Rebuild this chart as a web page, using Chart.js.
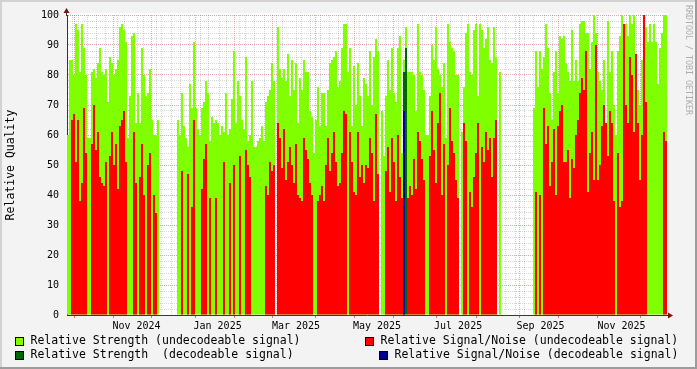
<!DOCTYPE html>
<html>
<head>
<meta charset="utf-8">
<script src="https://cdn.jsdelivr.net/npm/chart.js@4"></script>
<style>
  html, body { margin: 0; padding: 0; background: #f3f3f3; }
  canvas { display: block; }
</style>
</head>
<body>
<canvas id="qualityChart" width="697" height="369"></canvas>
<script>
// one value per ~1.5 days, 27 Sep 2024 .. 18 Dec 2025 (null = no data)
var strength = [
  60,85,85,80,97,95,81,97,89,80,59,59,81,82,79,84,89,81,80,82,
  71,86,84,80,82,85,96,97,95,91,59,73,93,94,64,74,64,89,80,73,
  74,82,65,60,60,65,null,null,null,null,null,null,null,null,null,65,60,74,63,59,
  56,77,69,91,69,62,60,69,71,78,74,58,66,64,65,64,60,63,61,74,
  60,62,72,88,64,78,73,65,62,86,58,60,78,56,56,58,59,63,58,71,
  73,75,84,78,null,96,82,79,82,78,87,73,85,75,84,64,79,75,85,81,
  81,68,66,54,65,76,63,74,74,63,75,84,85,86,88,76,78,89,97,97,
  81,89,63,83,70,84,73,63,79,77,73,88,70,86,92,88,null,68,53,73,
  85,75,89,74,71,89,93,54,85,96,81,81,81,80,68,97,81,80,75,60,
  60,73,90,85,96,82,80,76,84,59,97,91,89,88,80,80,null,61,76,94,
  97,81,80,95,97,73,97,95,89,92,96,85,84,96,86,null,81,null,null,null,
  null,null,null,null,null,null,null,null,null,null,null,null,null,69,88,76,88,82,86,97,
  89,74,65,81,88,74,93,92,93,84,81,78,95,78,85,78,97,98,98,94,
  94,82,91,100,94,81,78,75,85,60,98,81,88,70,60,88,93,100,97,97,
  93,100,97,100,82,75,70,85,88,96,91,97,91,97,91,77,89,94,100,100
];
var snr = [
  0,0,65,67,51,65,38,44,69,54,0,0,57,70,55,61,46,44,43,51,
  0,53,61,50,57,42,63,65,68,51,0,0,0,61,44,0,46,57,40,0,
  50,54,0,40,34,0,null,null,null,null,null,null,null,null,null,0,0,48,0,0,
  47,0,36,65,0,0,0,42,52,57,0,39,0,0,39,0,0,0,51,0,
  0,44,0,50,0,0,53,0,0,55,50,46,0,0,0,0,0,0,0,43,
  40,51,48,50,null,64,59,49,62,45,51,56,50,44,57,40,39,38,59,55,
  52,44,40,0,0,38,40,43,38,50,59,48,54,61,51,43,44,54,68,67,
  0,61,51,41,40,61,46,50,44,50,49,59,54,38,67,47,null,0,0,48,
  56,41,59,51,38,60,46,39,0,0,39,43,40,52,42,61,58,52,45,0,
  0,53,68,55,44,64,74,40,57,0,50,69,58,54,45,39,null,0,64,58,
  0,41,36,46,54,64,0,56,51,61,55,59,46,59,65,null,0,null,null,null,
  null,null,null,null,null,null,null,null,null,null,null,null,null,0,41,0,40,0,69,57,
  63,43,51,62,40,63,68,70,51,51,55,39,52,49,60,65,74,79,75,88,
  41,54,61,45,90,45,50,63,70,64,53,68,64,38,0,54,36,38,97,70,
  64,86,80,61,87,64,45,60,100,71,0,0,0,0,0,0,0,0,61,58
];
// the few slots with a decodeable signal
var decIndex = [168, 169];
var decStrength = [81, 89];
var decSnr = [68, null];

var tickLabels = ['Nov 2024', 'Jan 2025', 'Mar 2025', 'May 2025', 'Jul 2025', 'Sep 2025', 'Nov 2025'];
var labelMonths = [[2024, 10], [2025, 0], [2025, 2], [2025, 4], [2025, 6], [2025, 8], [2025, 10]];

var legendItems = [
  { text: 'Relative Strength (undecodeable signal)', color: '#80ff00', x: 15, y: 337 },
  { text: 'Relative Signal/Noise (undecodeable signal)', color: '#ff0000', x: 365, y: 337 },
  { text: 'Relative Strength  (decodeable signal)', color: '#006600', x: 15, y: 351 },
  { text: 'Relative Signal/Noise (decodeable signal)', color: '#000099', x: 379, y: 351 }
];

var MONO = "'DejaVu Sans Mono', monospace";
Chart.defaults.font.family = MONO;
Chart.defaults.color = '#000';

function decSeries(vals) {
  return strength.map(function (_, i) {
    var j = decIndex.indexOf(i);
    return j < 0 ? null : vals[j];
  });
}

// time axis in days since 1 Nov 2024
var origin = Date.UTC(2024, 10, 1);
function dayOf(y, m, d) { return (Date.UTC(y, m, d) - origin) / 86400000; }

var xtTicks = [];
for (var w = 3 - 35; w < 413; w += 7) xtTicks.push({ value: w, kind: 'minor', text: '' });
for (var m = 0; m < 15; m++) xtTicks.push({ value: dayOf(2024, 9 + m, 1), kind: 'major', text: '' });
labelMonths.forEach(function (lm, i) {
  xtTicks.push({ value: dayOf(lm[0], lm[1], 1) + 15.5, kind: 'label', text: tickLabels[i] });
});
xtTicks.sort(function (a, b) { return a.value - b.value; });

var yTicks = [];
for (var v = 0; v <= 100; v += 2) yTicks.push({ value: v });

var MAJOR = 'rgba(190,70,70,0.45)';
var MINOR = 'rgba(120,120,120,0.3)';

var rrdFrame = {
  id: 'rrdFrame',
  beforeDraw: function (chart) {
    var ctx = chart.ctx, a = chart.chartArea;
    ctx.save();
    ctx.fillStyle = '#f3f3f3';
    ctx.fillRect(0, 0, chart.width, chart.height);
    ctx.fillStyle = '#d2d2d2';
    ctx.fillRect(0, 0, chart.width, 2);
    ctx.fillRect(0, 0, 2, chart.height);
    ctx.fillStyle = '#9c9c9c';
    ctx.fillRect(chart.width - 2, 0, 2, chart.height);
    ctx.fillRect(0, chart.height - 2, chart.width, 2);
    ctx.fillStyle = '#ffffff';
    ctx.fillRect(a.left, a.top - 2, a.right - a.left + 1, a.bottom - a.top + 2);
    ctx.restore();
  },
  afterDraw: function (chart) {
    var ctx = chart.ctx, a = chart.chartArea;
    ctx.save();
    // axis arrows
    ctx.fillStyle = '#7f1010';
    ctx.strokeStyle = '#33334d';
    ctx.lineWidth = 1;
    ctx.beginPath();
    ctx.moveTo(a.left - 0.5, a.top + 1); ctx.lineTo(a.left - 0.5, a.top - 3);
    ctx.moveTo(a.right, a.bottom + 0.5); ctx.lineTo(a.right + 2, a.bottom + 0.5);
    ctx.stroke();
    ctx.beginPath();
    ctx.moveTo(a.left - 3.5, a.top - 2); ctx.lineTo(a.left + 2.5, a.top - 2); ctx.lineTo(a.left - 0.5, a.top - 7);
    ctx.closePath(); ctx.fill();
    ctx.beginPath();
    ctx.moveTo(a.right + 1, a.bottom - 2.5); ctx.lineTo(a.right + 1, a.bottom + 3.5); ctx.lineTo(a.right + 6, a.bottom + 0.5);
    ctx.closePath(); ctx.fill();

    // legend
    ctx.font = '11.5px ' + MONO;
    ctx.textBaseline = 'middle';
    legendItems.forEach(function (it) {
      ctx.fillStyle = it.color;
      ctx.fillRect(it.x, it.y, 9, 9);
      ctx.strokeStyle = '#000';
      ctx.strokeRect(it.x + 0.5, it.y + 0.5, 8, 8);
      ctx.fillStyle = '#000';
      ctx.fillText(it.text, it.x + 15.5, it.y + 4.5);
    });

    // watermark
    ctx.translate(688, 5);
    ctx.rotate(Math.PI / 2);
    ctx.font = '8.3px ' + MONO;
    ctx.fillStyle = '#adadad';
    ctx.textAlign = 'left';
    ctx.fillText('RRDTOOL / TOBI OETIKER', 0, 0);
    ctx.restore();
  }
};

function barSet(data, color, order) {
  return {
    data: data,
    backgroundColor: color,
    borderWidth: 0,
    barPercentage: 1,
    categoryPercentage: 1,
    grouped: false,
    inflateAmount: 0,
    order: order,
    xAxisID: 'x',
    yAxisID: 'y'
  };
}

var ctx = document.getElementById('qualityChart').getContext('2d');
var chart = new Chart(ctx, {
  type: 'bar',
  data: {
    labels: strength.map(function (_, i) { return i; }),
    datasets: [
      barSet(strength, '#80ff00', 4),
      barSet(snr, '#ff0000', 3),
      barSet(decSeries(decStrength), '#006600', 2),
      barSet(decSeries(decSnr), '#000099', 1)
    ]
  },
  options: {
    responsive: false,
    animation: false,
    events: [],
    layout: { padding: { top: 15, right: 30, bottom: 0, left: 0 } },
    plugins: { legend: { display: false }, tooltip: { enabled: false } },
    scales: {
      x: { type: 'category', display: false },
      xt: {
        type: 'linear',
        position: 'bottom',
        bounds: 'data',
        min: -34.22,
        max: 412.11,
        z: 1,
        afterBuildTicks: function (scale) {
          scale.ticks = xtTicks.map(function (t) { return { value: t.value }; });
        },
        afterFit: function (scale) { scale.height = 54; },
        grid: {
          color: function (c) {
            var k = xtTicks[c.index] && xtTicks[c.index].kind;
            return k === 'major' ? MAJOR : (k === 'minor' ? MINOR : 'rgba(0,0,0,0)');
          },
          tickColor: function (c) {
            var k = xtTicks[c.index] && xtTicks[c.index].kind;
            return k === 'major' ? 'rgba(190,70,70,0.7)' : 'rgba(0,0,0,0)';
          },
          tickLength: 3
        },
        border: { color: '#33334d', width: 1, dash: [1, 1] },
        ticks: {
          autoSkip: false,
          maxRotation: 0,
          padding: 2,
          font: { size: 10 },
          color: '#000',
          callback: function (val, i) { return xtTicks[i] ? xtTicks[i].text : ''; }
        }
      },
      y: {
        min: 0,
        max: 100,
        z: 1,
        afterBuildTicks: function (scale) { scale.ticks = yTicks.slice(); },
        afterFit: function (scale) { scale.width = 67; },
        grid: {
          drawTicks: false,
          color: function (c) { return c.tick && c.tick.value % 10 === 0 ? MAJOR : MINOR; }
        },
        border: { color: '#33334d', width: 1, dash: [1, 1] },
        title: { display: true, text: 'Relative Quality', font: { size: 11.5 }, color: '#000' },
        ticks: {
          autoSkip: false,
          padding: 8,
          font: { size: 10 },
          color: '#000',
          callback: function (val) { return val % 10 === 0 ? String(val) : ''; }
        }
      }
    }
  },
  plugins: [rrdFrame]
});
</script>
</body>
</html>
